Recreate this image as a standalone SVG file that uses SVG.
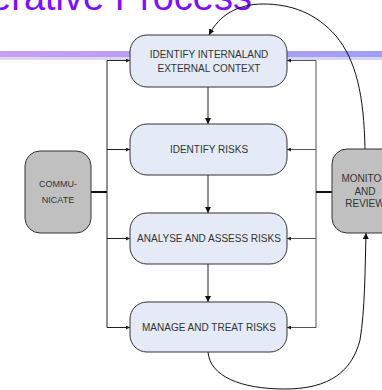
<svg xmlns="http://www.w3.org/2000/svg" width="382" height="390" viewBox="0 0 382 390">
  <defs>
    <linearGradient id="band" x1="0" y1="0" x2="1" y2="0">
      <stop offset="0" stop-color="#c6a0f2"/>
      <stop offset="1" stop-color="#a09ef8"/>
    </linearGradient>
    <linearGradient id="bandLow" x1="0" y1="0" x2="1" y2="0">
      <stop offset="0" stop-color="#e2d4f8"/>
      <stop offset="1" stop-color="#d4d4fa"/>
    </linearGradient>
    <marker id="arr" viewBox="0 0 10 10" refX="10" refY="5" markerWidth="6" markerHeight="6" markerUnits="userSpaceOnUse" orient="auto">
      <path d="M0,0 L10,5 L0,10 z" fill="#111"/>
    </marker>
    <marker id="arrS" viewBox="0 0 10 10" refX="10" refY="5" markerWidth="5" markerHeight="4" markerUnits="userSpaceOnUse" orient="auto">
      <path d="M0,0 L10,5 L0,10 z" fill="#222"/>
    </marker>
  </defs>
  <style>
    .step { fill: #e4eaf6; stroke: #333; stroke-width: 1; }
    .side { fill: #c0c0c0; stroke: #333; stroke-width: 1; }
    .lbl { font-family: "Liberation Sans", Arial, sans-serif; font-size: 10px; fill: #333; text-anchor: middle; }
    .slbl { font-family: "Liberation Sans", Arial, sans-serif; font-size: 9px; fill: #333; text-anchor: middle; }
    .mlbl { font-family: "Liberation Sans", Arial, sans-serif; font-size: 10px; fill: #333; text-anchor: middle; }
    .line { fill: none; stroke: #222; stroke-width: 1; }
    .rline { fill: none; stroke: #555; stroke-width: 1; }
    .thick { fill: none; stroke: #111; stroke-width: 2; }
    .curve { fill: none; stroke: #111; stroke-width: 1; }
  </style>

  <!-- title (cut off at the top) -->
  <text x="-31" y="10" font-family="'Liberation Sans', Arial, sans-serif" font-size="38" fill="#7f10ff">Iterative Process</text>

  <!-- decorative band -->
  <rect x="0" y="51" width="382" height="6" fill="url(#band)"/>
  <rect x="0" y="57" width="382" height="3" fill="url(#bandLow)"/>

  <g id="connectors">
    <!-- vertical flow -->
    <line class="line" x1="208" y1="87" x2="208" y2="124" marker-end="url(#arr)"/>
    <line class="line" x1="208" y1="175" x2="208" y2="213" marker-end="url(#arr)"/>
    <line class="line" x1="208" y1="264" x2="208" y2="302" marker-end="url(#arr)"/>
    <!-- left bus -->
    <line class="line" x1="107" y1="60.5" x2="107" y2="327.5"/>
    <line class="line" x1="107" y1="60.5" x2="130" y2="60.5" marker-end="url(#arrS)"/>
    <line class="line" x1="107" y1="149.5" x2="130" y2="149.5" marker-end="url(#arrS)"/>
    <line class="line" x1="107" y1="238.5" x2="130" y2="238.5" marker-end="url(#arrS)"/>
    <line class="line" x1="107" y1="327.5" x2="130" y2="327.5" marker-end="url(#arrS)"/>
    <line class="thick" x1="91" y1="192" x2="107" y2="192"/>
    <!-- right bus -->
    <line class="rline" x1="316" y1="60.5" x2="316" y2="327.5"/>
    <line class="rline" x1="316" y1="60.5" x2="287" y2="60.5" marker-end="url(#arrS)"/>
    <line class="rline" x1="316" y1="149.5" x2="287" y2="149.5" marker-end="url(#arrS)"/>
    <line class="rline" x1="316" y1="238.5" x2="287" y2="238.5" marker-end="url(#arrS)"/>
    <line class="rline" x1="316" y1="327.5" x2="287" y2="327.5" marker-end="url(#arrS)"/>
    <line class="thick" x1="316" y1="192" x2="332" y2="192"/>
    <!-- feedback curves -->
    <path class="curve" d="M 365 149 C 364 95, 356 60, 336 36 C 316 13, 291 4, 263 4 C 238 4, 219 15, 209 35" marker-end="url(#arr)"/>
    <path class="curve" d="M 208 352 C 210 376, 240 389, 285 389 C 330 389, 352 371, 360 340 C 365 310, 365 270, 366 233" marker-end="url(#arr)"/>
  </g>

  <g id="node-context">
    <rect class="step" x="130" y="35" width="157" height="52" rx="17"/>
    <text class="lbl" x="209" y="58">IDENTIFY INTERNALAND</text>
    <text class="lbl" x="209" y="72">EXTERNAL CONTEXT</text>
  </g>
  <g id="node-identify">
    <rect class="step" x="130" y="124" width="157" height="51" rx="17"/>
    <text class="lbl" x="209" y="153">IDENTIFY RISKS</text>
  </g>
  <g id="node-analyse">
    <rect class="step" x="130" y="213" width="157" height="51" rx="17"/>
    <text class="lbl" x="209" y="242">ANALYSE AND ASSESS RISKS</text>
  </g>
  <g id="node-manage">
    <rect class="step" x="130" y="302" width="157" height="50" rx="17"/>
    <text class="lbl" x="209" y="331">MANAGE AND TREAT RISKS</text>
  </g>
  <g id="node-communicate">
    <rect class="side" x="25" y="151" width="66" height="82" rx="15"/>
    <text class="slbl" x="58" y="187">COMMU-</text>
    <text class="slbl" x="58" y="202.5">NICATE</text>
  </g>
  <g id="node-monitor">
    <rect class="side" x="332" y="149" width="64" height="84" rx="15"/>
    <text class="mlbl" x="365" y="181.5">MONITOR</text>
    <text class="mlbl" x="365" y="194.5">AND</text>
    <text class="mlbl" x="365" y="207">REVIEW</text>
  </g>
</svg>
